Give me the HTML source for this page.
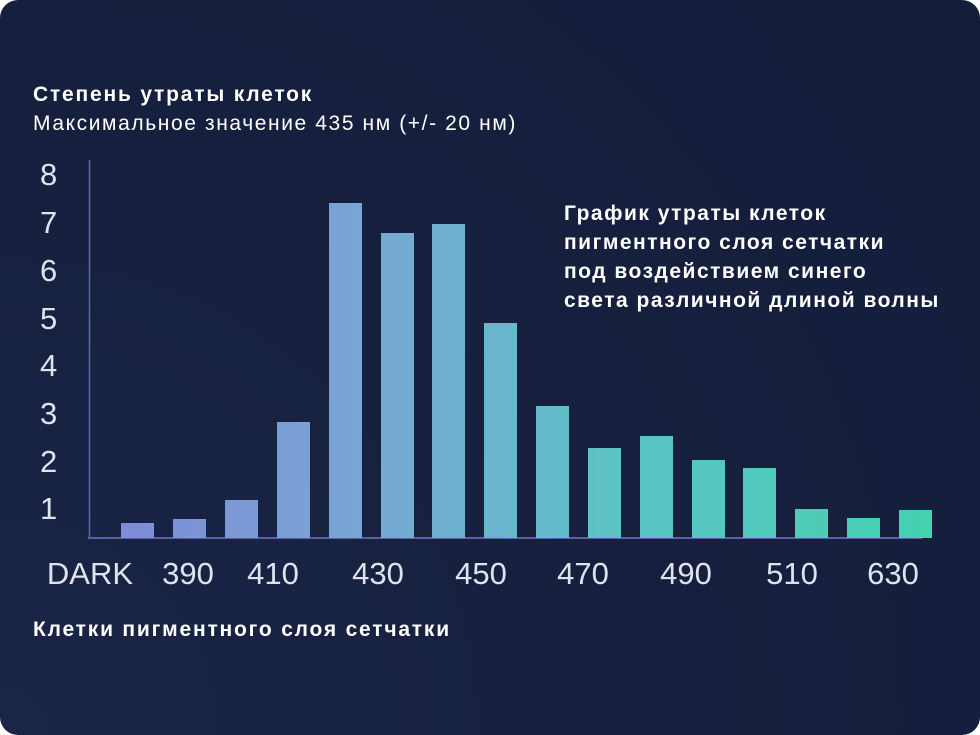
<!DOCTYPE html><html><head><meta charset="utf-8"><style>
body{margin:0;width:980px;height:735px;background:#fff;overflow:hidden;font-family:"Liberation Sans",sans-serif}
.card{position:absolute;left:0;top:0;width:980px;height:735px;border-radius:18px;background:radial-gradient(circle at 0% 100%,#1a2548 0%,#17213f 40%,#141d3a 100%)}
.t{position:absolute;color:#fff;white-space:nowrap}
</style></head><body><div class="card"></div>
<div class="t" style="left:33px;top:83px;font-size:21px;font-weight:bold;letter-spacing:1.8px">Степень утраты клеток</div>
<div class="t" style="left:33px;top:112px;font-size:21px;letter-spacing:1.6px">Максимальное значение 435 нм (+/- 20 нм)</div>
<div class="t" style="left:564px;top:199px;font-size:21px;font-weight:bold;line-height:29px;letter-spacing:1.5px">График утраты клеток<br>пигментного слоя сетчатки<br>под воздействием синего<br>света различной длиной волны</div>
<div class="t" style="left:33px;top:618px;font-size:21px;font-weight:bold;letter-spacing:1.8px">Клетки пигментного слоя сетчатки</div>
<svg width="980" height="735" style="position:absolute;left:0;top:0">
<defs><linearGradient id="g" x1="121" x2="932" gradientUnits="userSpaceOnUse"><stop offset="0" stop-color="#7f8cd6"/><stop offset="0.3" stop-color="#78a6d4"/><stop offset="0.6" stop-color="#5cc2c6"/><stop offset="1" stop-color="#44d2b0"/></linearGradient></defs>
<line x1="89.5" y1="160" x2="89.5" y2="538" stroke="#5a6aa8" stroke-width="1.5"/>
<line x1="88" y1="538" x2="922" y2="538" stroke="#5a5fa8" stroke-width="2"/>
<g fill="url(#g)">
<rect x="121" y="523" width="33" height="15"/><rect x="173" y="519" width="33" height="19"/><rect x="225" y="500" width="33" height="38"/><rect x="277" y="422" width="33" height="116"/><rect x="329" y="203" width="33" height="335"/><rect x="381" y="233" width="33" height="305"/><rect x="432" y="224" width="33" height="314"/><rect x="484" y="323" width="33" height="215"/><rect x="536" y="406" width="33" height="132"/><rect x="588" y="448" width="33" height="90"/><rect x="640" y="436" width="33" height="102"/><rect x="692" y="460" width="33" height="78"/><rect x="743" y="468" width="33" height="70"/><rect x="795" y="509" width="33" height="29"/><rect x="847" y="518" width="33" height="20"/><rect x="899" y="510" width="33" height="28"/>
</g>
<g fill="#dfe3ee" font-family="Liberation Sans,sans-serif" font-size="31">
<text x="40" y="185">8</text><text x="40" y="233">7</text><text x="40" y="281">6</text><text x="40" y="329">5</text><text x="40" y="376">4</text><text x="40" y="424">3</text><text x="40" y="472">2</text><text x="40" y="519">1</text>
<g text-anchor="middle"><text x="90" y="584">DARK</text><text x="188" y="584">390</text><text x="273" y="584">410</text><text x="378" y="584">430</text><text x="481" y="584">450</text><text x="583" y="584">470</text><text x="686" y="584">490</text><text x="792" y="584">510</text><text x="893" y="584">630</text></g>
</g></svg>
</body></html>
